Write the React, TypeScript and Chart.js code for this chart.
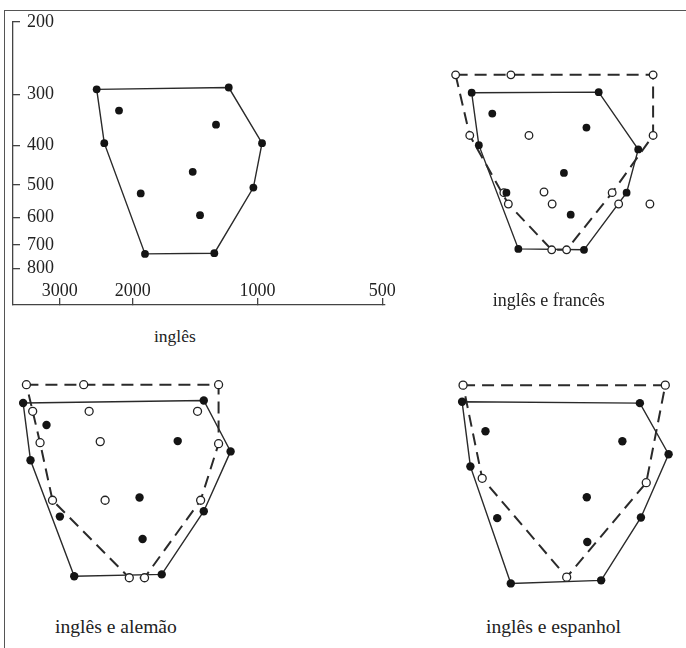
import React, { useEffect, useRef } from "react";
import { Chart, registerables } from "chart.js";

Chart.register(...registerables);

// ---- Data: second formant (F2, Hz) and first formant (F1, Hz) ----
// Panel 1: inglês
const EN1_F2 = [2443, 2158, 1173, 1259, 2342, 975, 1433, 1913, 1023, 1376, 1868, 1271];
const EN1_F1 = [292, 329, 289, 356, 395, 395, 464, 524, 507, 592, 736, 733];
// Panel 2: inglês e francês
const EN2_F2 = [2448, 2174, 1178, 1264, 2349, 938, 1439, 2004, 1003, 1384, 1871, 1282];
const EN2_F1 = [293, 331, 292, 359, 398, 408, 468, 525, 525, 597, 729, 733];
const FR_F2 = [2685, 1953, 861, 2475, 1760, 861, 2034, 1614, 1090, 1982, 1540, 1050, 877, 1544, 1417];
const FR_F1 = [264, 264, 264, 376, 376, 376, 525, 523, 525, 561, 561, 561, 561, 733, 733];
// Panel 3: inglês e alemão
const EN3_F2 = [2387, 2154, 1079, 1210, 2311, 959, 1431, 2031, 1079, 1412, 1907, 1298];
const EN3_F1 = [292, 328, 288, 357, 395, 377, 481, 532, 517, 599, 729, 722];
const DE_F2 = [2353, 1829, 1011, 2289, 1786, 1109, 2216, 1701, 1011, 2098, 1665, 1094, 1497, 1400];
const DE_F1 = [265, 265, 265, 305, 305, 305, 360, 358, 362, 488, 488, 488, 735, 735];
// Panel 4: inglês e espanhol
const EN4_F2 = [2377, 2145, 1088, 1175, 2292, 959, 1374, 2037, 1083, 1371, 1919, 1290];
const EN4_F1 = [285, 333, 287, 351, 401, 376, 472, 527, 525, 598, 744, 732];
const ES_F2 = [2367, 973, 2176, 1058, 1501];
const ES_F1 = [261, 261, 427, 437, 720];

// Outline order (indices into the arrays above)
const EN_HULL = [0, 2, 5, 8, 11, 10, 4, 0];
const FR_HULL = [0, 2, 5, 8, 14, 13, 9, 3, 0];
const DE_HULL = [0, 2, 8, 11, 13, 12, 9, 6, 3, 0];
const ES_HULL = [0, 1, 3, 4, 2, 0];

// Axis ticks
const F1_TICKS = [200, 300, 400, 500, 600, 700, 800];
const F2_TICKS = [3000, 2000, 1000, 500];

// Captions
const CAPTIONS = ["inglês", "inglês e francês", "inglês e alemão", "inglês e espanhol"];

const SERIF = "'Liberation Serif', 'DejaVu Serif', serif";
const INK = "#222";
const LINE = "#2a2a2a";

const pts = (f2: number[], f1: number[]) => f2.map((x, i) => ({ x, y: f1[i] }));
const hull = (f2: number[], f1: number[], order: number[]) =>
  order.map((i) => ({ x: f2[i], y: f1[i] }));

const filledDs = (data: any[], r: number) => ({
  data,
  showLine: false,
  pointRadius: r,
  pointBackgroundColor: "#141414",
  pointBorderColor: "#141414",
  pointBorderWidth: 0,
  order: 0,
  clip: false,
});
const openDs = (data: any[], r: number) => ({
  data,
  showLine: false,
  pointRadius: r,
  pointBackgroundColor: "#ffffff",
  pointBorderColor: INK,
  pointBorderWidth: 1.3,
  order: 1,
  clip: false,
});
const solidDs = (data: any[]) => ({
  data,
  showLine: true,
  borderColor: LINE,
  borderWidth: 1.4,
  pointRadius: 0,
  fill: false,
  tension: 0,
  order: 3,
  clip: false,
});
const dashedDs = (data: any[]) => ({
  data,
  showLine: true,
  borderColor: LINE,
  borderWidth: 2,
  borderDash: [12, 7],
  pointRadius: 0,
  fill: false,
  tension: 0,
  order: 2,
  clip: false,
});

const baseOptions = {
  responsive: false,
  animation: false,
  events: [],
  plugins: { legend: { display: false }, tooltip: { enabled: false }, title: { display: false } },
};

function hiddenScales(xMin: number, xMax: number, yMin: number, yMax: number) {
  return {
    x: { type: "logarithmic", reverse: true, min: xMin, max: xMax, bounds: "data", display: false },
    y: { type: "logarithmic", reverse: true, min: yMin, max: yMax, bounds: "data", display: false },
  };
}

function config1() {
  const tickFont = { family: SERIF, size: 18, lineHeight: 1.2 };
  return {
    type: "scatter",
    data: {
      datasets: [
        filledDs(pts(EN1_F2, EN1_F1), 3.9),
        solidDs(hull(EN1_F2, EN1_F1, EN_HULL)),
      ],
    },
    options: {
      ...baseOptions,
      layout: { padding: { left: 0, top: 22, right: 35, bottom: 0 } },
      scales: {
        x: {
          type: "logarithmic",
          position: "bottom",
          reverse: true,
          min: 492.4,
          max: 3889,
          bounds: "data",
          afterBuildTicks: (s: any) => {
            s.ticks = F2_TICKS.map((v) => ({ value: v }));
          },
          afterFit: (s: any) => {
            s.height = 15;
            s.paddingLeft = 0;
            s.paddingRight = 0;
          },
          grid: { drawOnChartArea: false, drawTicks: true, tickLength: -7, color: "#444", lineWidth: 1.3 },
          border: { display: true, color: "#444", width: 1.3 },
          ticks: {
            mirror: true,
            padding: 3,
            autoSkip: false,
            maxRotation: 0,
            minRotation: 0,
            color: INK,
            font: tickFont,
            callback: (v: any) => String(v),
          },
        },
        y: {
          type: "logarithmic",
          position: "left",
          reverse: true,
          min: 200,
          max: 980.7,
          bounds: "data",
          afterBuildTicks: (s: any) => {
            s.ticks = F1_TICKS.map((v) => ({ value: v }));
          },
          afterFit: (s: any) => {
            s.width = 13;
            s.paddingTop = 0;
            s.paddingBottom = 0;
          },
          grid: { drawOnChartArea: false, drawTicks: true, tickLength: -7, color: "#444", lineWidth: 1.3 },
          border: { display: true, color: "#444", width: 1.3 },
          ticks: {
            mirror: true,
            padding: 14,
            autoSkip: false,
            color: INK,
            font: tickFont,
            callback: (v: any) => String(v),
          },
        },
      },
    },
  };
}

function config2() {
  return {
    type: "scatter",
    data: {
      datasets: [
        filledDs(pts(EN2_F2, EN2_F1), 3.9),
        openDs(pts(FR_F2, FR_F1), 3.8),
        dashedDs(hull(FR_F2, FR_F1, FR_HULL)),
        solidDs(hull(EN2_F2, EN2_F1, EN_HULL)),
      ],
    },
    options: { ...baseOptions, layout: { padding: 0 }, scales: hiddenScales(734.5, 3889, 200, 980.7) },
  };
}

function config3() {
  return {
    type: "scatter",
    data: {
      datasets: [
        filledDs(pts(EN3_F2, EN3_F1), 4.2),
        openDs(pts(DE_F2, DE_F1), 4),
        dashedDs(hull(DE_F2, DE_F1, DE_HULL)),
        solidDs(hull(EN3_F2, EN3_F1, EN_HULL)),
      ],
    },
    options: { ...baseOptions, layout: { padding: 0 }, scales: hiddenScales(909.3, 2492.6, 239.2, 803.8) },
  };
}

function config4() {
  return {
    type: "scatter",
    data: {
      datasets: [
        filledDs(pts(EN4_F2, EN4_F1), 4.2),
        openDs(pts(ES_F2, ES_F1), 4),
        dashedDs(hull(ES_F2, ES_F1, ES_HULL)),
        solidDs(hull(EN4_F2, EN4_F1, EN_HULL)),
      ],
    },
    options: { ...baseOptions, layout: { padding: 0 }, scales: hiddenScales(909.3, 2492.6, 235.0, 789.7) },
  };
}

function Panel(props: { left: number; top: number; width: number; height: number; build: () => any }) {
  const ref = useRef<HTMLCanvasElement | null>(null);
  useEffect(() => {
    if (!ref.current) return;
    const chart = new Chart(ref.current, props.build() as any);
    return () => chart.destroy();
  }, []);
  return (
    <canvas
      ref={ref}
      width={props.width}
      height={props.height}
      style={{
        position: "absolute",
        left: props.left,
        top: props.top,
        width: props.width,
        height: props.height,
      }}
    />
  );
}

function Caption(props: { left: number; top: number; size: number; text: string }) {
  return (
    <div
      style={{
        position: "absolute",
        left: props.left,
        top: props.top,
        fontFamily: SERIF,
        fontSize: props.size,
        lineHeight: `${props.size}px`,
        color: INK,
        whiteSpace: "nowrap",
      }}
    >
      {props.text}
    </div>
  );
}

export default function App() {
  return (
    <div
      style={{
        position: "fixed",
        left: 0,
        top: 0,
        width: 686,
        height: 648,
        overflow: "hidden",
        background: "#ffffff",
      }}
    >
      <div
        style={{
          position: "absolute",
          left: 4,
          top: 10,
          width: 700,
          height: 700,
          borderTop: "1.6px solid #555",
          borderLeft: "1.6px solid #555",
        }}
      />
      <Panel left={0} top={0} width={420} height={320} build={config1} />
      <Panel left={386} top={22} width={300} height={283} build={config2} />
      <Panel left={8} top={360} width={240} height={240} build={config3} />
      <Panel left={446} top={360} width={240} height={240} build={config4} />
      <Caption left={154} top={328.3} size={17.5} text={CAPTIONS[0]} />
      <Caption left={492.7} top={291} size={18} text={CAPTIONS[1]} />
      <Caption left={55} top={616.6} size={19.6} text={CAPTIONS[2]} />
      <Caption left={486} top={616.6} size={19.6} text={CAPTIONS[3]} />
    </div>
  );
}
